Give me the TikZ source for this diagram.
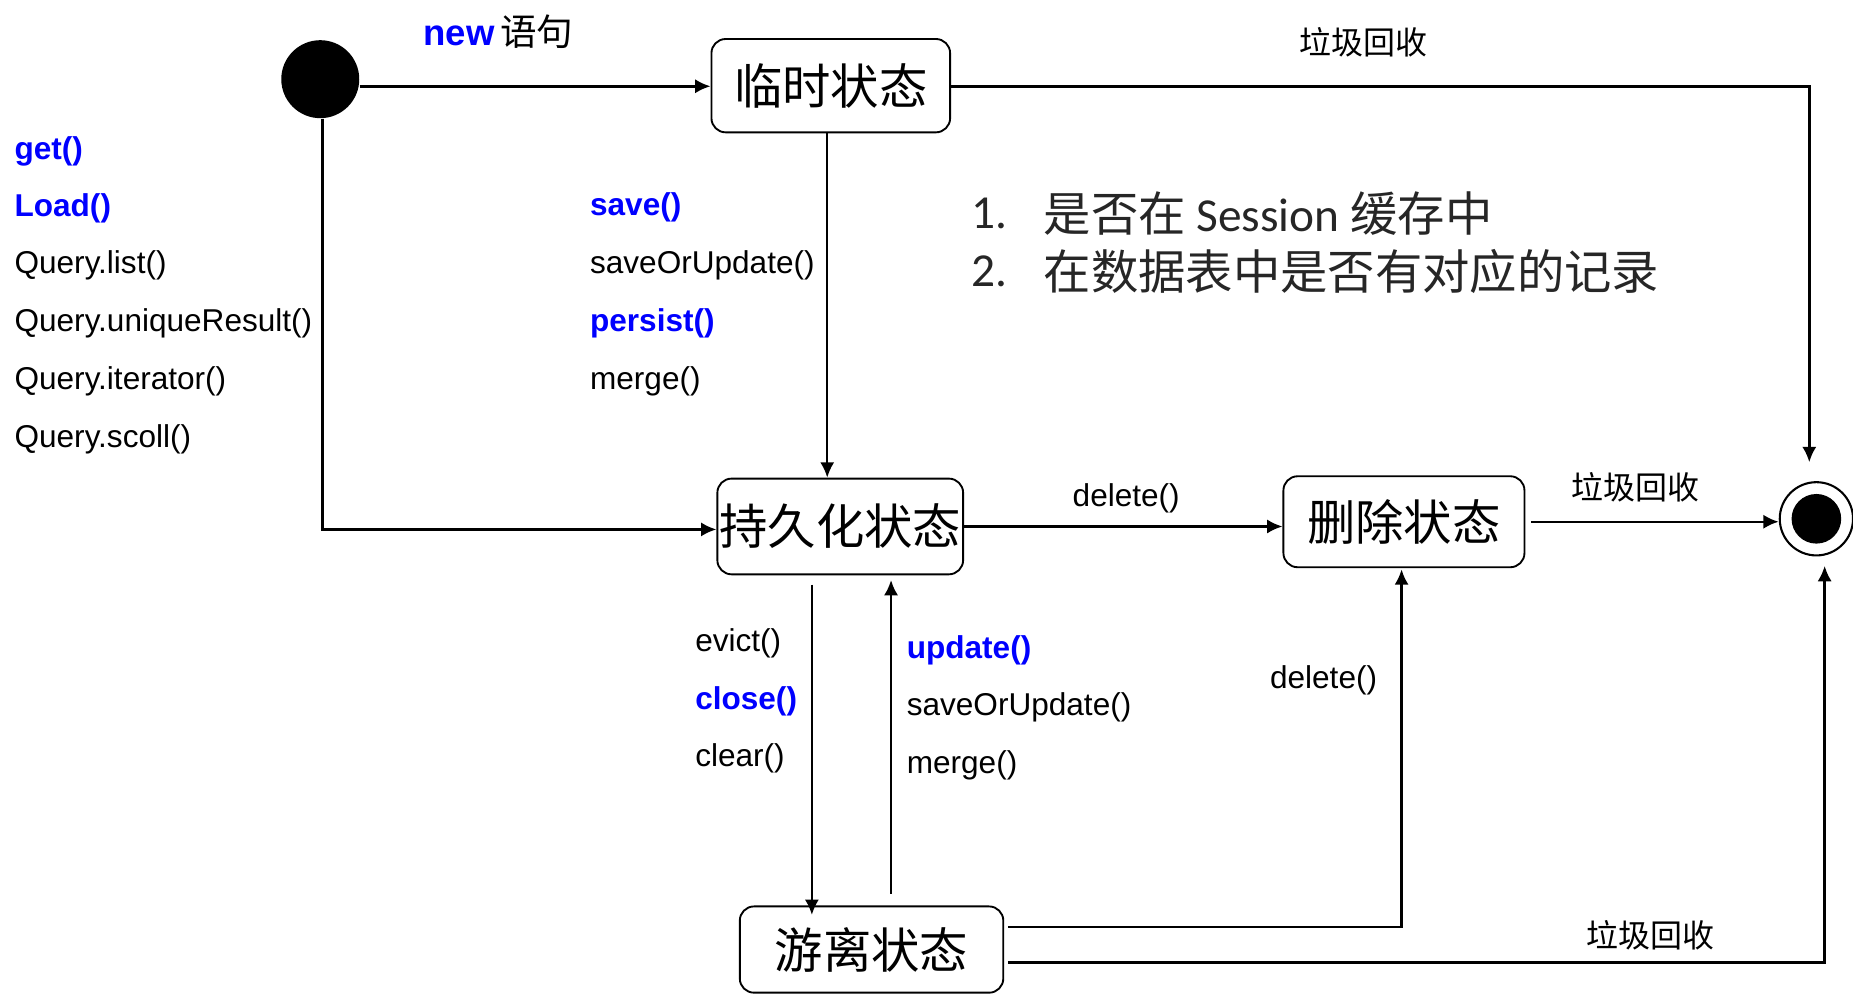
\documentclass[tikz,border=0pt]{standalone}
\usepackage{fontspec}
\setmainfont{Liberation Sans}
\newfontfamily\cjk{Noto Sans CJK SC}
\newfontfamily\cali{Carlito}
\usetikzlibrary{arrows.meta}
\definecolor{kwblue}{RGB}{0,0,255}
\definecolor{listgray}{RGB}{38,38,38}
\tikzset{
  statebox/.style={draw, line width=0.9pt, rounded corners=0.24cm, inner sep=0pt, font=\cjk\fontsize{23.3}{26}\selectfont},
  arr/.style={line width=1.2pt, -{Latex[length=0.26cm,width=0.24cm]}},
  lbl/.style={inner sep=0pt, anchor=west, font=\fontsize{15.2}{18}\selectfont},
  kw/.style={lbl, text=kwblue, font=\bfseries\fontsize{15.2}{18}\selectfont},
  gc/.style={inner sep=0pt, font=\cjk\fontsize{15.4}{18}\selectfont},
  lst/.style={inner sep=0pt, anchor=west, text=listgray, font=\cali\fontsize{22.8}{26}\selectfont},
}
\begin{document}
\begin{tikzpicture}[x=0.02cm,y=-0.02cm]
\useasboundingbox (0,0) rectangle (1568,841);
% states
\node[circle, fill=black, minimum size=1.32cm, inner sep=0pt] (start) at (271,67) {};
\node[statebox, minimum width=4.04cm, minimum height=1.58cm] (lin) at (703,72.5) {临时状态};
\node[statebox, minimum width=4.16cm, minimum height=1.62cm] (pers) at (711,445.5) {持久化状态};
\node[statebox, minimum width=4.08cm, minimum height=1.54cm] (del) at (1188,441.5) {删除状态};
\node[statebox, minimum width=4.46cm, minimum height=1.46cm] (det) at (737.5,803.5) {游离状态};
\node[circle, draw, line width=1pt, minimum size=1.24cm, inner sep=0pt] (final) at (1537,439) {};
\node[circle, fill=black, minimum size=0.84cm, inner sep=0pt] (finalin) at (final.center) {};

% labels
\node[inner sep=0pt, anchor=west] (newl) at (358,27) {\textcolor{kwblue}{\bfseries\fontsize{17.6}{20}\selectfont new} {\cjk\fontsize{17.6}{20}\selectfont 语句}};
\node[gc] (gc1) at (1154,36) {垃圾回收};
\node[kw] (l1) at (12,128.5) {get()};
\node[kw] (l2) at (12,176.5) {Load()};
\node[lbl] (l3) at (12,224.5) {Query.list()};
\node[lbl] (l4) at (12,273.5) {Query.uniqueResult()};
\node[lbl] (l5) at (12,322.5) {Query.iterator()};
\node[lbl] (l6) at (12,371.5) {Query.scoll()};
\node[kw] (s1) at (499,175.5) {save()};
\node[lbl] (s2) at (499,224.5) {saveOrUpdate()};
\node[kw] (s3) at (499,273.5) {persist()};
\node[lbl] (s4) at (499,322.5) {merge()};
\node[lst] (n1) at (822,181) {1.};
\node[lst] (t1) at (883,181) {{\cjk 是否在} Session {\cjk 缓存中}};
\node[lst] (n2) at (822,230) {2.};
\node[lst] (t2) at (883,230) {{\cjk 在数据表中是否有对应的记录}};
\node[inner sep=0pt, font=\fontsize{15.2}{18}\selectfont] (d1) at (953,421.5) {delete()};
\node[gc] (gc2) at (1384,412) {垃圾回收};
\node[lbl] (e1) at (588,544.5) {evict()};
\node[kw] (e2) at (588,593.5) {close()};
\node[lbl] (e3) at (588,641.5) {clear()};
\node[kw] (u1) at (767,550.5) {update()};
\node[lbl] (u2) at (767,598.5) {saveOrUpdate()};
\node[lbl] (u3) at (767,647.5) {merge()};
\node[inner sep=0pt, font=\fontsize{15.2}{18}\selectfont] (d2) at (1120,575.5) {delete()};
\node[gc] (gc3) at (1397,791) {垃圾回收};

% connectors
\draw[arr] (start.east |- 0,73) -- (lin.west |- 0,73);
\draw[arr] (lin.east |- 0,73) -| ([xshift=-0.12cm,yshift=0.32cm]final.north);
\draw[arr] ([xshift=-0.06cm]lin.south) -- ([xshift=-0.06cm]lin.south |- pers.north);
\draw[arr] ([xshift=0.04cm]start.south) |- (pers.west |- 0,448);
\draw[arr] (pers.east) -- (pers.east -| del.west);
\draw[arr, shorten <=0.1cm] (del.east) -- (del.east -| final.west);
\draw[arr] ([xshift=-0.48cm,yshift=-0.16cm]pers.south) -- ([xshift=-0.48cm,yshift=-0.16cm]pers.south |- det.north);
\draw[arr] ([xshift=0.86cm,yshift=0.2cm]det.north -| pers.south) -- ([xshift=0.86cm,yshift=-0.08cm]pers.south);
\draw[arr, shorten <=0.06cm] ([yshift=0.38cm]det.east) -| ([xshift=-0.04cm,yshift=-0.02cm]del.south);
\draw[arr, shorten <=0.06cm] ([yshift=-0.22cm]det.east) -| ([xshift=0.14cm,yshift=-0.16cm]final.south);
\end{tikzpicture}
\end{document}
